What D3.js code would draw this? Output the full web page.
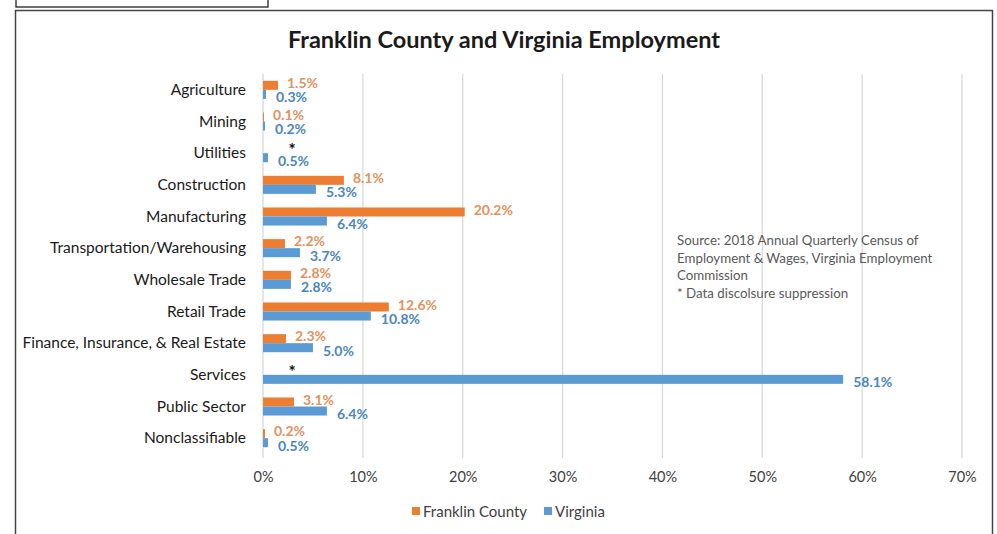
<!DOCTYPE html>
<html>
<head>
<meta charset="utf-8">
<script src="https://cdn.jsdelivr.net/npm/d3@7"></script>
<style>
  html, body { margin: 0; padding: 0; background: #fff; }
  svg { display: block; font-family: Lato, "Open Sans", sans-serif; }
</style>
</head>
<body>
<svg id="chart" width="997" height="534"></svg>
<script>
// Employment share by industry, 2018
const categories = [
  "Agriculture", "Mining", "Utilities", "Construction", "Manufacturing",
  "Transportation/Warehousing", "Wholesale Trade", "Retail Trade",
  "Finance, Insurance, & Real Estate", "Services", "Public Sector", "Nonclassifiable"
];
// null = suppressed (shown as "*")
const franklinCounty = [1.5, 0.1, null, 8.1, 20.2, 2.2, 2.8, 12.6, 2.3, null, 3.1, 0.2];
const virginia       = [0.3, 0.2, 0.5, 5.3, 6.4, 3.7, 2.8, 10.8, 5.0, 58.1, 6.4, 0.5];
const xTicks = [0, 10, 20, 30, 40, 50, 60, 70];
const seriesNames = ["Franklin County", "Virginia"];
const sourceLines = [
  "Source:  2018 Annual Quarterly Census of",
  "Employment & Wages, Virginia Employment",
  "Commission",
  "* Data discolsure suppression"
];

const colors = { fc: "#ED7D31", va: "#5B9BD5" };
const labelColors = { fc: "#E2925C", va: "#4B86C0" };

const svg = d3.select("#chart");

// frames
svg.append("rect").attr("x", 16).attr("y", -4).attr("width", 252).attr("height", 11)
  .attr("fill", "none").attr("stroke", "#222").attr("stroke-width", 1.3);
svg.append("rect").attr("x", 15.5).attr("y", 10.5).attr("width", 977).attr("height", 540)
  .attr("fill", "#fff").attr("stroke", "#444").attr("stroke-width", 1.5);

// title
svg.append("text").attr("x", 504).attr("y", 48).attr("text-anchor", "middle")
  .attr("font-size", 23.5).attr("font-weight", 700).attr("fill", "#1a1a1a")
  .text("Franklin County and Virginia Employment");

const x = d3.scaleLinear().domain([0, 70]).range([263, 962]);
const y = d3.scaleBand().domain(categories).range([74, 454]).paddingInner(0.43).paddingOuter(0.215);
const ySub = d3.scaleBand().domain(["fc", "va"]).range([0, y.bandwidth()]);

// gridlines
svg.append("g").selectAll("line").data(xTicks).join("line")
  .attr("x1", d => x(d)).attr("x2", d => x(d))
  .attr("y1", 74).attr("y2", 458)
  .attr("stroke", "#d9d9d9").attr("stroke-width", 1.3);

// x axis labels
const xAxis = svg.append("g").attr("transform", "translate(0,469)")
  .call(d3.axisBottom(x).tickValues(xTicks).tickSize(0).tickFormat(d => d + "%"));
xAxis.select(".domain").remove();
xAxis.selectAll("text").attr("font-size", 14.5).attr("fill", "#404040")
  .attr("font-family", "Lato, 'Open Sans', sans-serif");

// category labels
svg.append("g").selectAll("text").data(categories).join("text")
  .attr("x", 246).attr("y", d => y(d) + y.bandwidth() / 2 + 5)
  .attr("text-anchor", "end").attr("font-size", 15.5).attr("fill", "#1a1a1a")
  .text(d => d);

const rows = categories.map((c, i) => ({ cat: c, fc: franklinCounty[i], va: virginia[i] }));

["fc", "va"].forEach(key => {
  const g = svg.append("g");
  g.selectAll("rect").data(rows.filter(r => r[key] !== null)).join("rect")
    .attr("x", x(0))
    .attr("y", r => y(r.cat) + ySub(key))
    .attr("width", r => x(r[key]) - x(0))
    .attr("height", ySub.bandwidth())
    .attr("fill", colors[key]);

  g.selectAll("text").data(rows.filter(r => r[key] !== null)).join("text")
    .attr("x", r => x(r[key]) + (key === "fc" ? 9 : 10))
    .attr("y", r => y(r.cat) + y.bandwidth() / 2 + (key === "fc" ? -2 : 12.5))
    .attr("font-size", 14).attr("font-weight", 700).attr("fill", labelColors[key])
    .text(r => r[key].toFixed(1) + "%");
});

// suppressed values
svg.append("g").selectAll("text").data(rows.filter(r => r.fc === null)).join("text")
  .attr("x", x(0) + 29).attr("y", r => y(r.cat) + y.bandwidth() / 2 + 3)
  .attr("text-anchor", "middle").attr("font-size", 17).attr("font-weight", 700).attr("fill", "#111")
  .text("*");

// source note
svg.append("g").selectAll("text").data(sourceLines).join("text")
  .attr("x", 677).attr("y", (d, i) => 245 + i * 17.5)
  .attr("font-size", 13.3).attr("fill", "#595959")
  .text(d => d);

// legend
const legend = svg.append("g").attr("transform", "translate(0,512)");
const legendX = [412, 544];
seriesNames.forEach((name, i) => {
  const key = i === 0 ? "fc" : "va";
  legend.append("rect").attr("x", legendX[i]).attr("y", -5).attr("width", 8).attr("height", 8)
    .attr("fill", colors[key]);
  legend.append("text").attr("x", legendX[i] + 11).attr("y", 5)
    .attr("font-size", 15).attr("fill", "#404040").text(name);
});
</script>
</body>
</html>
